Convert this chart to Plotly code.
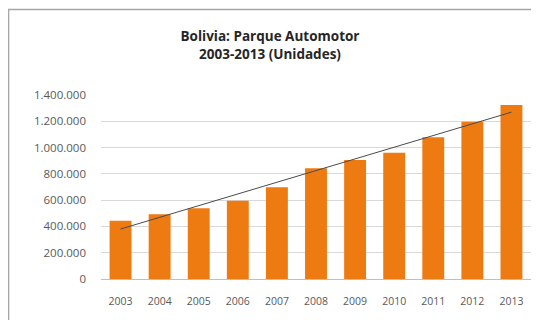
import numpy as np
import plotly.graph_objects as go

# ----------- Data -----------
years = ['2003', '2004', '2005', '2006', '2007', '2008', '2009', '2010', '2011', '2012', '2013']
vehicles = [443000, 492000, 538000, 596000, 698000, 842000, 905000, 961000, 1078000, 1197000, 1324000]
y_ticks = [0, 200000, 400000, 600000, 800000, 1000000, 1200000, 1400000]

# linear trend line (as Excel would add it)
idx = np.arange(len(vehicles))
slope, intercept = np.polyfit(idx, vehicles, 1)
trend = slope * idx + intercept

fig = go.Figure()
fig.add_trace(go.Bar(
    x=years, y=vehicles,
    marker=dict(color='#EE7A12', line=dict(width=0)),
    name='Parque Automotor'
))
fig.add_trace(go.Scatter(
    x=years, y=trend, mode='lines',
    line=dict(color='#4a4a4a', width=1),
    name='Lineal'
))

# page body has an 8px margin, so the figure is sized a bit smaller
fig.update_layout(
    width=531, height=312,
    margin=dict(l=93, r=8, t=87, b=41),
    paper_bgcolor='white', plot_bgcolor='white',
    showlegend=False,
    bargap=0.44,
    separators=',.',
    font=dict(family='Open Sans, Liberation Sans, sans-serif', color='#595959', size=10),
    title=dict(
        text='<b>Bolivia: Parque Automotor<br>2003-2013 (Unidades)</b>',
        x=0.4934, xanchor='center', xref='container',
        y=0.893, yanchor='middle',
        font=dict(size=13.5, color='#262626', family='Open Sans, Liberation Sans, sans-serif')
    ),
    shapes=[dict(
        type='rect', xref='paper', yref='paper',
        x0=-0.215, x1=1.015, y0=-0.25, y1=1.4647,
        line=dict(color='#a6a6a6', width=1.5), fillcolor='rgba(0,0,0,0)', layer='below'
    )]
)
fig.update_xaxes(
    showgrid=False, showline=True, linecolor='#bfbfbf', linewidth=1,
    ticks='', ticklabelstandoff=12, tickfont=dict(size=10.5, color='#595959')
)
fig.update_yaxes(
    range=[0, 1400000], tickvals=y_ticks, tickformat=',d',
    showgrid=True, gridcolor='#d9d9d9', gridwidth=1, zeroline=False,
    ticks='', ticklabelstandoff=14, tickfont=dict(size=11.5, color='#595959')
)

fig.write_html('out.html')
